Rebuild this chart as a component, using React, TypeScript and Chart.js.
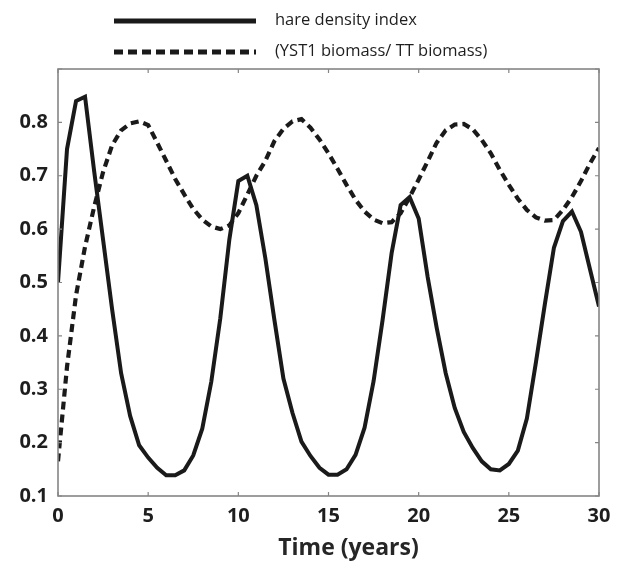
import { useEffect, useRef } from "react";
import { Chart, registerables } from "chart.js";

Chart.register(...registerables);

const times = [
  0, 0.5, 1, 1.5, 2, 2.5, 3, 3.5, 4, 4.5, 5, 5.5, 6, 6.5, 7, 7.5, 8, 8.5, 9, 9.5,
  10, 10.5, 11, 11.5, 12, 12.5, 13, 13.5, 14, 14.5, 15, 15.5, 16, 16.5, 17, 17.5,
  18, 18.5, 19, 19.5, 20, 20.5, 21, 21.5, 22, 22.5, 23, 23.5, 24, 24.5, 25, 25.5,
  26, 26.5, 27, 27.5, 28, 28.5, 29, 29.5, 30,
];

const hareDensity = [
  0.5, 0.75, 0.84, 0.848, 0.71, 0.58, 0.45, 0.33, 0.25, 0.195, 0.172, 0.153, 0.139,
  0.139, 0.148, 0.176, 0.226, 0.314, 0.433, 0.58, 0.69, 0.7, 0.645, 0.545, 0.43,
  0.32, 0.256, 0.202, 0.175, 0.153, 0.14, 0.14, 0.15, 0.177, 0.228, 0.315, 0.43,
  0.555, 0.645, 0.66, 0.62, 0.51, 0.415, 0.33, 0.265, 0.22, 0.19, 0.165, 0.15,
  0.148, 0.16, 0.185, 0.245, 0.35, 0.46, 0.565, 0.615, 0.633, 0.595, 0.525, 0.455,
];

const biomassRatio = [
  0.165, 0.342, 0.476, 0.567, 0.641, 0.707, 0.757, 0.785, 0.798, 0.802, 0.795,
  0.762, 0.728, 0.694, 0.665, 0.638, 0.618, 0.605, 0.6, 0.607, 0.63, 0.665, 0.7,
  0.728, 0.765, 0.788, 0.802, 0.806, 0.79, 0.768, 0.742, 0.713, 0.683, 0.655,
  0.633, 0.618, 0.611, 0.613, 0.63, 0.66, 0.693, 0.727, 0.762, 0.785, 0.796, 0.797,
  0.787, 0.767, 0.742, 0.711, 0.683, 0.657, 0.636, 0.622, 0.616, 0.617, 0.636,
  0.66, 0.69, 0.723, 0.752,
];

const xTickValues = [0, 5, 10, 15, 20, 25, 30];
const yTickValues = [0.1, 0.2, 0.3, 0.4, 0.5, 0.6, 0.7, 0.8, 0.9];
const seriesLabels = ["hare density index", "(YST1 biomass/ TT biomass)"];
const xTitle = "Time (years)";

const INK = "#1a1a1a";
const FRAME = "#858585";

const framePlugin = {
  id: "frameTicksLegend",
  afterDraw(chart: any) {
    const ctx = chart.ctx as CanvasRenderingContext2D;
    const { left, right, top, bottom } = chart.chartArea;
    const xs = chart.scales.x;
    const ys = chart.scales.y;
    ctx.save();
    ctx.strokeStyle = FRAME;
    ctx.lineWidth = 1.6;
    ctx.setLineDash([]);
    ctx.strokeRect(left, top, right - left, bottom - top);
    ctx.lineWidth = 1.2;
    const tl = 4;
    ctx.beginPath();
    xTickValues.forEach((v) => {
      const px = xs.getPixelForValue(v);
      ctx.moveTo(px, bottom);
      ctx.lineTo(px, bottom - tl);
      ctx.moveTo(px, top);
      ctx.lineTo(px, top + tl);
    });
    yTickValues.forEach((v) => {
      const py = ys.getPixelForValue(v);
      ctx.moveTo(left, py);
      ctx.lineTo(left + tl, py);
      ctx.moveTo(right, py);
      ctx.lineTo(right - tl, py);
    });
    ctx.stroke();

    const rows = [21, 52];
    chart.data.datasets.forEach((ds: any, i: number) => {
      const y = rows[i];
      ctx.strokeStyle = INK;
      ctx.lineWidth = 5;
      ctx.lineCap = "butt";
      ctx.setLineDash(ds.borderDash ? [9, 5] : []);
      ctx.beginPath();
      ctx.moveTo(114, y);
      ctx.lineTo(256, y);
      ctx.stroke();
      ctx.setLineDash([]);
      ctx.fillStyle = "#1e1e1e";
      ctx.font = '16.5px "Open Sans"';
      ctx.textAlign = "left";
      ctx.textBaseline = "middle";
      ctx.fillText(ds.label, 275, y - 1);
    });

    ctx.fillStyle = "#262626";
    ctx.font = 'bold 23px "Open Sans"';
    ctx.textAlign = "center";
    ctx.textBaseline = "middle";
    ctx.fillText(xTitle, (left + right) / 2 + 20, 548);
    ctx.restore();
  },
};

export default function App() {
  const ref = useRef<HTMLCanvasElement | null>(null);
  useEffect(() => {
    if (!ref.current) return;
    const chart = new Chart(ref.current, {
      type: "line",
      data: {
        datasets: [
          {
            label: seriesLabels[0],
            data: times.map((t, i) => ({ x: t, y: hareDensity[i] })),
            borderColor: INK,
            borderWidth: 4,
            pointRadius: 0,
            tension: 0,
            fill: false,
          },
          {
            label: seriesLabels[1],
            data: times.map((t, i) => ({ x: t, y: biomassRatio[i] })),
            borderColor: INK,
            borderWidth: 4.2,
            borderDash: [8, 5],
            pointRadius: 0,
            tension: 0,
            fill: false,
          },
        ],
      },
      options: {
        animation: false,
        responsive: false,
        layout: { padding: { top: 69, right: 24, left: 0, bottom: 0 } },
        plugins: {
          legend: { display: false },
          tooltip: { enabled: false },
          title: { display: false },
        },
        scales: {
          x: {
            type: "linear",
            min: 0,
            max: 30,
            afterFit: (s: any) => {
              s.height = 70;
            },
            afterBuildTicks: (s: any) => {
              s.ticks = xTickValues.map((v) => ({ value: v }));
            },
            grid: { display: false, drawTicks: false },
            border: { display: false },
            ticks: {
              padding: 8,
              color: "#1e1e1e",
              font: { family: "Open Sans", weight: "bold", size: 20 },
              maxRotation: 0,
              autoSkip: false,
            },
          },
          y: {
            type: "linear",
            min: 0.1,
            max: 0.9,
            afterFit: (s: any) => {
              s.width = 58;
            },
            afterBuildTicks: (s: any) => {
              s.ticks = yTickValues.map((v) => ({ value: v }));
            },
            grid: { display: false, drawTicks: false },
            border: { display: false },
            ticks: {
              padding: 10,
              color: "#1e1e1e",
              font: { family: "Open Sans", weight: "bold", size: 20 },
              autoSkip: false,
              callback: (v: any) => (Math.abs(Number(v) - 0.9) < 1e-6 ? "" : Number(v).toFixed(1)),
            },
          },
        },
      },
      plugins: [framePlugin],
    });
    return () => chart.destroy();
  }, []);
  return (
    <div style={{ position: "fixed", left: 0, top: 0, width: 623, height: 566, background: "#fff" }}>
      <canvas ref={ref} width={623} height={566} />
    </div>
  );
}
